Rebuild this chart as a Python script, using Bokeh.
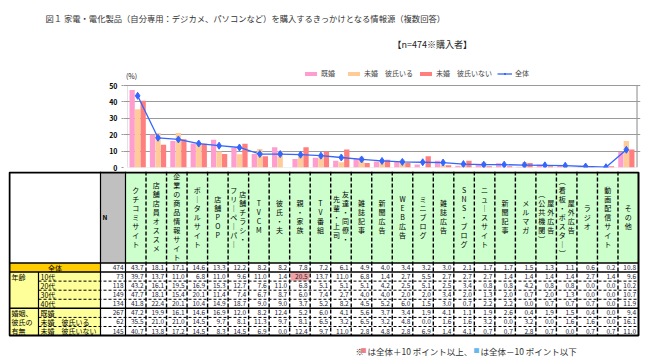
from bokeh.plotting import figure
from bokeh.models import (ColumnDataSource, FactorRange, Range1d, Label, Legend, LegendItem,
                          BoxAnnotation, FixedTicker)
from bokeh.transform import dodge
from bokeh.layouts import column
from bokeh.embed import file_html
from bokeh.resources import INLINE
from bokeh.core.properties import value

FONT = "Noto Sans CJK JP"

# ---------------- data ----------------
title_text = "図１ 家電・電化製品（自分専用：デジカメ、パソコンなど）を購入するきっかけとなる情報源（複数回答）"
sample_note = "【n=474※購入者】"
unit_label = "(%)"

categories = ["クチコミサイト", "店舗店員オススメ", "企業の商品情報サイト", "ポータルサイト", "店舗POP",
              "店舗チラシ・\nフリーペーパー", "TVCM", "彼氏・夫", "親・家族", "TV番組",
              "友達・同僚・\n先輩・上司", "雑誌記事", "新聞広告", "WEB広告", "ミニブログ", "雑誌広告",
              "SNS・ブログ", "ニュースサイト", "新聞記事", "メルマガ", "屋外広告\n（公共機関）",
              "屋外広告\n（看板・ポスター）", "ラジオ", "動画配信サイト", "その他"]

series_names = ["既婚", "未婚　彼氏いる", "未婚　彼氏いない", "全体"]
row_labels = ["全体", "10代", "20代", "30代", "40代", "既婚", "未婚　彼氏いる", "未婚　彼氏いない"]
group_age = "年齢"
group_marital = ["婚姻、", "彼氏の", "有無"]
row_n = [474, 73, 118, 149, 134, 267, 62, 145]

total_pct = [43.7, 18.1, 17.1, 14.6, 13.3, 12.2, 8.2, 8.2, 7.8, 7.2, 6.1, 4.9, 4.0, 3.4, 3.2,
             3.0, 2.1, 1.7, 1.7, 1.5, 1.3, 1.1, 0.6, 0.2, 10.8]
teens_pct = [39.7, 13.7, 11.0, 6.8, 11.0, 9.6, 11.0, 1.4, 20.5, 13.7, 11.0, 6.8, 1.4, 2.7, 5.5,
             2.7, 2.7, 2.7, 1.4, 1.4, 1.4, 1.4, 2.7, 1.4, 9.6]
twenties_pct = [43.2, 16.1, 19.5, 16.9, 15.3, 12.7, 7.6, 11.0, 6.8, 5.1, 5.1, 5.1, 4.2, 2.5, 5.1,
                2.5, 3.4, 0.8, 0.8, 4.2, 0.8, 0.8, 0.0, 0.0, 10.2]
thirties_pct = [47.7, 18.1, 15.4, 20.1, 11.4, 7.4, 6.7, 8.7, 6.0, 7.4, 2.7, 4.0, 4.0, 2.0, 2.0,
                3.4, 2.0, 1.3, 2.0, 0.7, 2.0, 1.3, 0.0, 0.0, 10.7]
forties_pct = [41.8, 22.4, 20.1, 10.4, 14.9, 18.7, 9.0, 9.0, 3.7, 5.2, 8.2, 4.5, 5.2, 6.0, 1.5,
               3.0, 0.7, 2.2, 2.2, 0.0, 0.7, 0.7, 0.7, 0.0, 11.9]
married_pct = [47.2, 19.9, 16.1, 14.6, 16.9, 12.0, 8.2, 12.4, 5.2, 6.0, 4.1, 5.6, 3.7, 3.4, 1.9,
               4.1, 1.1, 1.9, 2.6, 0.4, 1.9, 1.5, 0.4, 0.0, 9.4]
single_bf_pct = [35.5, 21.0, 21.0, 14.5, 9.7, 8.1, 11.3, 9.7, 8.1, 6.5, 3.2, 6.5, 3.2, 4.8, 0.0,
                 1.6, 1.6, 3.2, 0.0, 3.2, 0.0, 1.6, 1.6, 0.0, 16.1]
single_nobf_pct = [40.7, 13.8, 17.2, 14.5, 8.3, 14.5, 6.9, 0.0, 12.4, 9.7, 11.0, 2.8, 4.8, 2.8, 6.9,
                   1.4, 4.1, 0.7, 0.7, 2.8, 0.7, 0.0, 0.7, 0.7, 11.0]
y_ticks = [0, 10, 20, 30, 40, 50]

foot_mark = "※"
foot_square = "■"
foot_high = "は全体＋10 ポイント以上、"
foot_low = "は全体－10 ポイント以下"

table_rows = [total_pct, teens_pct, twenties_pct, thirties_pct, forties_pct,
              married_pct, single_bf_pct, single_nobf_pct]

# ---------------- styles ----------------
PINK = "#FF9ECE"
PEACH = "#FFCC99"
CORAL = "#FF7F7F"
BLUE = "#3366FF"
GRID = "#9A9A9A"

keys = [c.replace("\n", "") for c in categories]
NCAT = len(keys)

W = 655
# page geometry (pixels)
PX0, PX1 = 125, 638          # plot area left/right
PY50, PY0 = 85, 167          # y of 50 and 0
H0 = 60                      # header figure height
H1 = 171 - H0                # chart figure height
PPU = (PY0 - PY50) / 50.0
CWPX = (PX1 - PX0) / NCAT
PAD_PX = 2


def dx(xs):
    return (xs - PX0) / CWPX


def dy(ys):
    return (PY0 - ys) / PPU


# ---------------- header figure (title texts) ----------------
p0 = figure(width=W, height=H0, x_range=Range1d(0, W), y_range=Range1d(H0, 0),
            output_backend="svg", toolbar_location=None, x_axis_location=None,
            y_axis_location=None, min_border=0, outline_line_color=None)
p0.frame_align = False
p0.grid.visible = False
p0.text(x=[45], y=[17], text=[title_text], text_font=value(FONT), text_font_size=value("8.3px"),
        text_baseline="middle", text_color="#333333")
p0.text(x=[392], y=[44], text=[sample_note], text_font=value(FONT), text_font_size=value("9px"),
        text_baseline="middle", text_color="#222222")

# ---------------- chart figure ----------------
p1 = figure(width=W, height=H1,
            x_range=FactorRange(*keys, range_padding=2 * PAD_PX / CWPX,
                                range_padding_units="absolute"),
            y_range=Range1d(0, dy(H0)), output_backend="svg", toolbar_location=None,
            x_axis_location=None, min_border_left=PX0 - PAD_PX, min_border_right=W - PX1 - PAD_PX,
            min_border_top=0, min_border_bottom=171 - PY0, outline_line_color=None)
p1.frame_align = False
p1.xgrid.visible = False
p1.ygrid.ticker = FixedTicker(ticks=y_ticks)
p1.ygrid.grid_line_color = GRID
p1.yaxis.ticker = FixedTicker(ticks=y_ticks)
p1.yaxis.axis_line_color = None
p1.yaxis.major_tick_in = 0
p1.yaxis.major_tick_out = 2
p1.yaxis.major_tick_line_color = GRID
p1.yaxis.minor_tick_line_color = None
p1.yaxis.major_label_standoff = 4
p1.yaxis.major_label_text_font = FONT
p1.yaxis.major_label_text_font_size = "7px"
p1.yaxis.major_label_text_font_style = "bold"
p1.yaxis.major_label_text_color = "#000000"

src = ColumnDataSource(dict(cat=keys, married=married_pct, bf=single_bf_pct,
                            nobf=single_nobf_pct, total=total_pct))
bw = 0.26
r1 = p1.vbar(x=dodge("cat", -0.27, range=p1.x_range), top="married", width=bw, source=src,
             fill_color=PINK, line_color=None)
r2 = p1.vbar(x=dodge("cat", 0.0, range=p1.x_range), top="bf", width=bw, source=src,
             fill_color=PEACH, line_color=None)
r3 = p1.vbar(x=dodge("cat", 0.27, range=p1.x_range), top="nobf", width=bw, source=src,
             fill_color=CORAL, line_color=None)
r4 = p1.line(x="cat", y="total", source=src, line_color=BLUE, line_width=1.3)
r5 = p1.scatter(x="cat", y="total", source=src, marker="diamond", size=7,
                fill_color=BLUE, line_color=BLUE)

p1.add_layout(BoxAnnotation(left=0, right=NCAT, bottom=0, top=50, fill_alpha=0,
                            line_color=GRID, line_width=1))
p1.add_layout(BoxAnnotation(left=NCAT, right=NCAT + 0.06, bottom=0, top=50, fill_color=GRID,
                            fill_alpha=0.8, line_color=None))

legend = Legend(items=[LegendItem(label=series_names[0], renderers=[r1]),
                       LegendItem(label=series_names[1], renderers=[r2]),
                       LegendItem(label=series_names[2], renderers=[r3]),
                       LegendItem(label=series_names[3], renderers=[r4, r5])],
                location=(303 - (PX0 - PAD_PX), PY0 - 78), orientation="horizontal",
                glyph_width=15, glyph_height=5, label_height=8, label_standoff=3, spacing=5,
                padding=0, margin=0, label_text_font=FONT, label_text_font_size="7px",
                border_line_color=None, background_fill_alpha=0)
p1.add_layout(legend)

p1.add_layout(Label(x=dx(PX0 - PAD_PX + 0.5), y=dy(75), text=unit_label, text_font=FONT,
                    text_font_size="7px", text_baseline="middle", text_color="#222222"))

# ---------------- table figure ----------------
X0, XC1, XC2, XD, XR = 9, 38, 100, PX0, PX1
YT, YH = 171, 262.5
RH = 9.07
NR = len(row_labels)
YB = YH + NR * RH
H2 = 364 - 171 - 1


def rtop(r):
    return YH + r * RH


def rmid(r):
    return YH + (r + 0.5) * RH


p2 = figure(width=W, height=H2, x_range=Range1d(X0 - 1, XR + 2), y_range=Range1d(YT + H2, YT),
            output_backend="svg", toolbar_location=None, x_axis_location=None,
            y_axis_location=None, min_border_left=X0 - 1, min_border_right=W - XR - 2,
            min_border_top=0, min_border_bottom=0, outline_line_color=None)
p2.frame_align = False
p2.grid.visible = False

# backgrounds
p2.quad(left=[XC2], right=[XD], top=[YT], bottom=[YH], fill_color="#C0C0C0", line_color=None)
p2.quad(left=[XD], right=[XR], top=[YT], bottom=[YH], fill_color="#CCFFCC", line_color=None)
p2.quad(left=[X0], right=[XC2], top=[rtop(0)], bottom=[rtop(1)], fill_color="#FFCC00", line_color=None)
p2.quad(left=[X0], right=[XC2], top=[rtop(1)], bottom=[rtop(NR)], fill_color="#FFFF99", line_color=None)

# highlighted cells (derived from data)
hl, hr, ht, hb, hc = [], [], [], [], []
for r in range(1, NR):
    for i in range(NCAT):
        d = table_rows[r][i] - total_pct[i]
        if d >= 10 or d <= -10:
            hl.append(XD + i * CWPX + 1)
            hr.append(XD + (i + 1) * CWPX - 1)
            ht.append(rtop(r) + 0.5)
            hb.append(rtop(r + 1) - 0.5)
            hc.append("#F2A2A2" if d > 0 else "#99CCFF")
if hl:
    p2.quad(left=hl, right=hr, top=ht, bottom=hb, fill_color=hc, line_color=None)

# header vertical text
VMAP = {"ー": "｜", "（": "︵", "）": "︶"}
hx, hy, ht_ = [], [], []
for i, name in enumerate(categories):
    cols = name.split("\n")
    cx = XD + (i + 0.5) * CWPX
    nc = len(cols)
    for j, col in enumerate(cols):
        x = cx + (nc - 1) * 4.5 - 9 * j
        n = len(col)
        for k, ch in enumerate(col):
            hx.append(x)
            hy.append(216 + (k - (n - 1) / 2) * 9)
            ht_.append(VMAP.get(ch, ch))
p2.text(x=hx, y=hy, text=ht_, text_font=value(FONT), text_font_size=value("7px"),
        text_align="center", text_baseline="middle", text_color="#000000")
p2.text(x=[XC2 + 2], y=[216], text=["N"], text_font=value(FONT), text_font_size=value("6.5px"),
        text_font_style="bold", text_baseline="middle", text_color="#000000")

# row labels
p2.text(x=[(X0 + XC2) / 2], y=[rmid(0)], text=[row_labels[0]], text_font=value(FONT),
        text_font_size=value("7px"), text_align="center", text_baseline="middle")
p2.text(x=[XC1 + 2] * (NR - 1), y=[rmid(r) for r in range(1, NR)], text=row_labels[1:],
        text_font=value(FONT), text_font_size=value("7px"), text_baseline="middle")
p2.text(x=[X0 + 2], y=[rmid(1)], text=[group_age], text_font=value(FONT),
        text_font_size=value("7px"), text_baseline="middle")
p2.text(x=[X0 + 2] * 3, y=[rmid(5), rmid(6), rmid(7)], text=group_marital, text_font=value(FONT),
        text_font_size=value("7px"), text_baseline="middle")

# numbers
nx, ny, nt = [], [], []
for r in range(NR):
    nx.append(XD - 2)
    ny.append(rmid(r))
    nt.append(str(row_n[r]))
    for i in range(NCAT):
        nx.append(XD + (i + 1) * CWPX - 2.5)
        ny.append(rmid(r))
        nt.append(f"{table_rows[r][i]:.1f}")
p2.text(x=nx, y=ny, text=nt, text_font=value(FONT), text_font_size=value("6.5px"),
        text_align="right", text_baseline="middle", text_color="#1a1a33")

# grid lines
solid_h = [YH, rtop(1), rtop(5)]
p2.segment(x0=[X0] * 3, y0=solid_h, x1=[XR] * 3, y1=solid_h, line_color="black", line_width=1.5)
dash_h = [rtop(2), rtop(3), rtop(4), rtop(6), rtop(7)]
p2.segment(x0=[XC1] * 5, y0=dash_h, x1=[XR] * 5, y1=dash_h, line_color="black", line_width=1,
           line_dash="3 2")
p2.segment(x0=[XC1, XC2, XD], y0=[rtop(1), YT, YT], x1=[XC1, XC2, XD], y1=[YB, YB, YB],
           line_color="black", line_width=1.2)
vx = [XD + i * CWPX for i in range(1, NCAT)]
p2.segment(x0=vx, y0=[YT] * len(vx), x1=vx, y1=[YB] * len(vx), line_color="black",
           line_width=1.4, line_dash="4 2")
p2.quad(left=[X0], right=[XR], top=[YT + 1], bottom=[YB], fill_alpha=0,
        line_color="black", line_width=2)

# footnote
FY = 350
p2.text(x=[355, 367, 480], y=[FY] * 3, text=[foot_mark, foot_high, foot_low],
        text_color="#333333", text_font=value(FONT), text_font_size=value("8.5px"),
        text_baseline="middle")
p2.text(x=[360, 473], y=[FY, FY], text=[foot_square, foot_square],
        text_color=["#F08080", "#66B8F0"], text_font=value(FONT), text_font_size=value("6px"),
        text_baseline="middle")

layout = column(p0, p1, p2, spacing=0)
open("out.html", "w").write(file_html(layout, INLINE))
